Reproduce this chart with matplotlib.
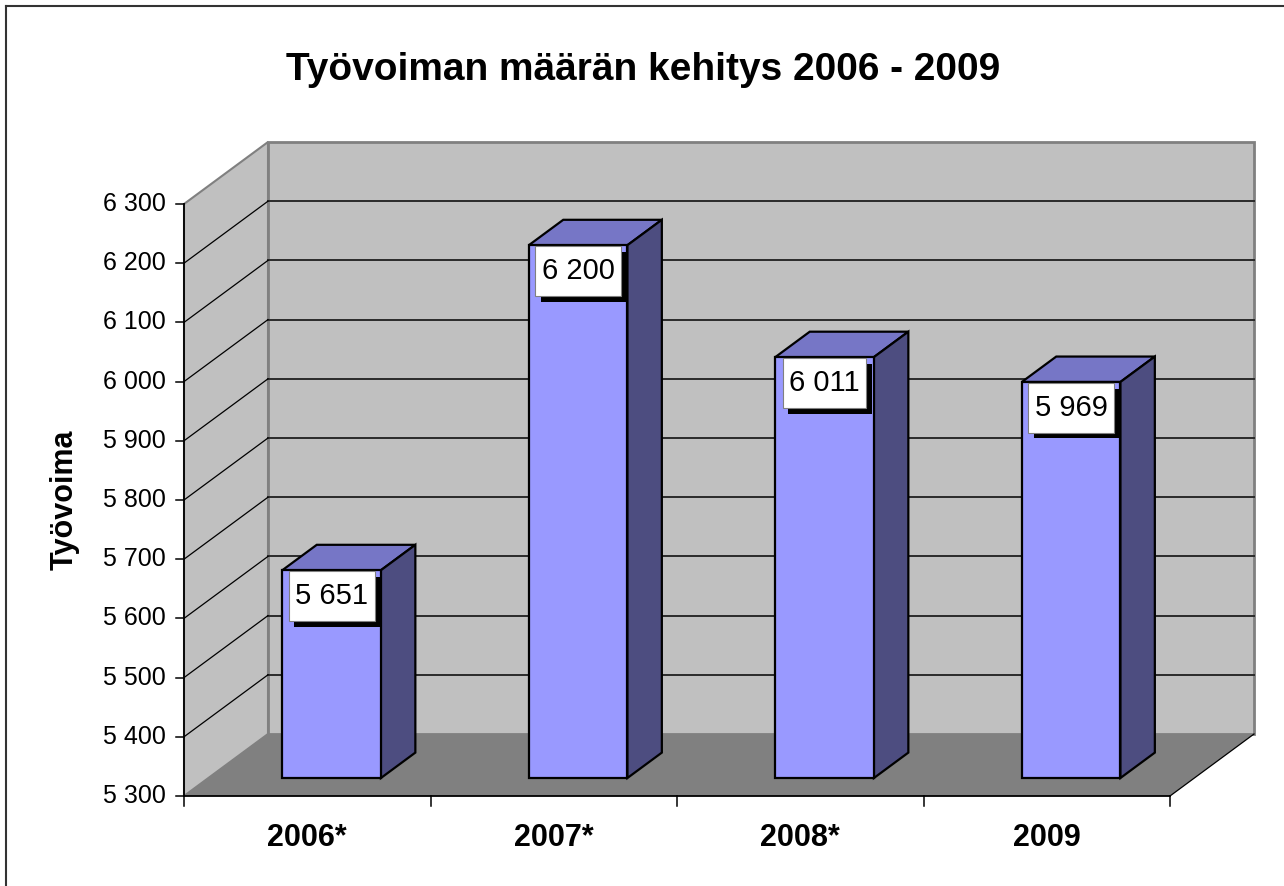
import numpy as np
import matplotlib
matplotlib.use('Agg')
import matplotlib.pyplot as plt
import matplotlib.patheffects as pe
from matplotlib.patches import Polygon
from matplotlib.lines import Line2D
from matplotlib.transforms import offset_copy

plt.rcParams['font.family'] = ['Liberation Sans', 'DejaVu Sans']

# data
vuodet = ['2006*', '2007*', '2008*', '2009']
tyovoima = [5651, 6200, 6011, 5969]
y_ticks = [5300, 5400, 5500, 5600, 5700, 5800, 5900, 6000, 6100, 6200, 6300]
otsikko = 'Työvoiman määrän kehitys 2006 - 2009'
y_otsikko = 'Työvoima'

W, H = 1284, 886
YMIN, YMAX = 5300, 6300

# pixel geometry of the front plane
px_cat = 246.5          # px per category
px_val = 0.592          # px per unit
left_px, base_px = 184, 796
DX = 84 / px_cat        # depth offset in category units
DY = 62 / px_val        # depth offset in value units
d0, d1 = 0.29, 0.70     # bar depth range
bw = 0.20               # half bar width

fig = plt.figure(figsize=(W / 100, H / 100), dpi=100)
ax = fig.add_axes([0, 0, 1, 1])
ax.set_xlim(-0.5 - left_px / px_cat, -0.5 + (W - left_px) / px_cat)
ax.set_ylim(YMIN - (H - base_px) / px_val, YMIN + base_px / px_val)
ax.axis('off')

n = len(vuodet)
x0, x1 = -0.5, n - 0.5

# walls
side = Polygon([(x0, YMIN), (x0, YMAX), (x0 + DX, YMAX + DY), (x0 + DX, YMIN + DY)],
               closed=True, fc='#c0c0c0', ec='#808080', lw=1.5, zorder=1)
back = Polygon([(x0 + DX, YMIN + DY), (x0 + DX, YMAX + DY), (x1 + DX, YMAX + DY), (x1 + DX, YMIN + DY)],
               closed=True, fc='#c0c0c0', ec='#808080', lw=2, zorder=1)
ax.add_patch(side)
ax.add_patch(back)

# gridlines
for v in y_ticks[1:-1]:
    ax.plot([x0 + DX, x1 + DX], [v + DY, v + DY], color='#2a2a2a', lw=1.4, zorder=2)
    ax.plot([x0, x0 + DX], [v, v + DY], color='black', lw=0.9, zorder=2)

# floor
floor = Polygon([(x0, YMIN), (x1, YMIN), (x1 + DX, YMIN + DY), (x0 + DX, YMIN + DY)],
                closed=True, fc='#808080', ec='none', zorder=3)
ax.add_patch(floor)
ax.plot([x1, x1 + DX], [YMIN, YMIN + DY], color='black', lw=0.9, zorder=3)

# bars
for i, v in enumerate(tyovoima):
    l, r = i - bw, i + bw
    front = Polygon([(l + d0 * DX, YMIN + d0 * DY), (r + d0 * DX, YMIN + d0 * DY),
                     (r + d0 * DX, v + d0 * DY), (l + d0 * DX, v + d0 * DY)],
                    closed=True, fc='#9999ff', ec='black', lw=1.6, zorder=5)
    top = Polygon([(l + d0 * DX, v + d0 * DY), (r + d0 * DX, v + d0 * DY),
                   (r + d1 * DX, v + d1 * DY), (l + d1 * DX, v + d1 * DY)],
                  closed=True, fc='#7676c6', ec='black', lw=1.6, zorder=4)
    rside = Polygon([(r + d0 * DX, YMIN + d0 * DY), (r + d1 * DX, YMIN + d1 * DY),
                     (r + d1 * DX, v + d1 * DY), (r + d0 * DX, v + d0 * DY)],
                    closed=True, fc='#4d4d80', ec='black', lw=1.6, zorder=4)
    for p in (top, rside, front):
        ax.add_patch(p)

    # value label with shadow
    teksti = '{:,}'.format(v).replace(',', ' ')
    tx, ty = i + d0 * DX, v + d0 * DY
    paikka = offset_copy(ax.transData, fig=fig, x=0, y=-12, units='dots')
    t = ax.text(tx, ty, teksti, ha='center', va='top', fontsize=21, color='black',
                transform=paikka, zorder=7,
                bbox=dict(boxstyle='square,pad=0.22', mutation_aspect=1.7,
                          fc='white', ec='#808080', lw=0.8))
    t.get_bbox_patch().set_path_effects([
        pe.SimplePatchShadow(offset=(4, -4), shadow_rgbFace='black', alpha=1.0),
        pe.Normal()])

# front axes
ax.plot([x0, x0], [YMIN, YMAX], color='black', lw=1.3, zorder=8)
ax.plot([x0, x1], [YMIN, YMIN], color='black', lw=1.3, zorder=8)
tick_x = 8 / px_cat
for v in y_ticks:
    ax.plot([x0 - tick_x, x0], [v, v], color='black', lw=1.1, zorder=8)
    ax.text(x0 - 18 / px_cat, v, '{:,}'.format(v).replace(',', ' '),
            ha='right', va='center', fontsize=18)
tick_y = 10 / px_val
for b in np.arange(n + 1) - 0.5:
    ax.plot([b, b], [YMIN, YMIN - tick_y], color='black', lw=1.1, zorder=8)
for i, lab in enumerate(vuodet):
    ax.text(i, YMIN - 27 / px_val, lab, ha='center', va='top',
            fontsize=22, fontweight='bold')

fig.text(643.5 / W, 1 - 70 / H, otsikko, ha='center', va='center',
         fontsize=28, fontweight='bold')
fig.text(65 / W, 1 - 500 / H, y_otsikko, ha='center', va='center',
         rotation=90, fontsize=22, fontweight='bold')

# chart area border (left and top visible)
fig.add_artist(Line2D([6 / W, 6 / W], [0, 1 - 6 / H], color='#333333', lw=1.5))
fig.add_artist(Line2D([6 / W, 1], [1 - 6 / H, 1 - 6 / H], color='#333333', lw=1.5))

fig.savefig('out.png', dpi=100)
